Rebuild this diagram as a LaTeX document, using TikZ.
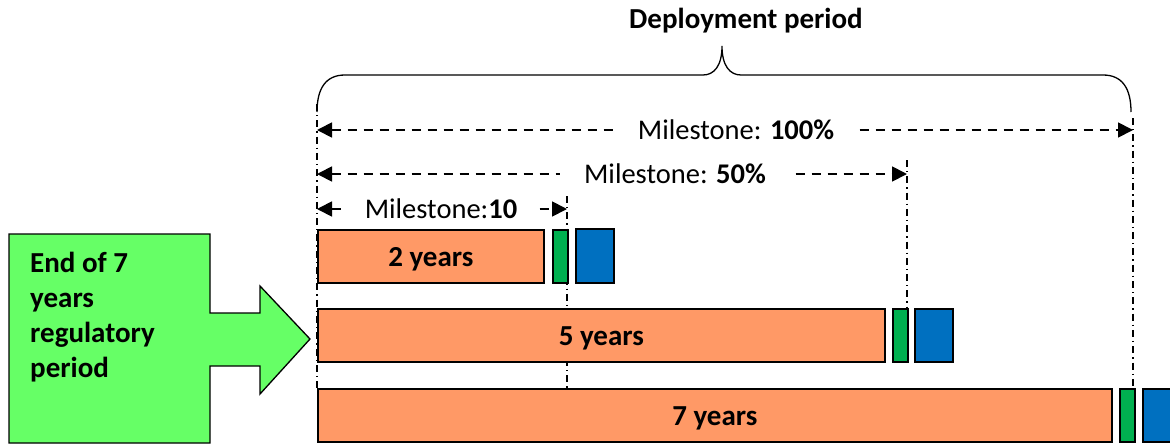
\documentclass[tikz,border=0pt]{standalone}
\usepackage{fontspec}
\setmainfont{Carlito}
\usetikzlibrary{arrows.meta}
\definecolor{barorange}{HTML}{FF9966}
\definecolor{bargreen}{HTML}{00B050}
\definecolor{barblue}{HTML}{0070C0}
\definecolor{callgreen}{HTML}{66FF66}
\newcommand{\barlabel}[1]{\raisebox{-10pt}[0pt][0pt]{#1}}
\begin{document}
\begin{tikzpicture}[x=1pt,y=-1pt,
  bar/.style={draw=black,line width=1.6pt,anchor=north west,inner sep=0pt,font=\fontsize{29}{32}\selectfont\bfseries},
  obar/.style={bar,fill=barorange},
  gbar/.style={bar,fill=bargreen},
  bbar/.style={bar,fill=barblue},
  dimarrow/.style={line width=1.8pt,dash pattern=on 9pt off 7pt,{Triangle[length=15pt,width=15pt]}-{Triangle[length=15pt,width=15pt]}},
  dimlabel/.style={fill=white,inner sep=4pt,font=\fontsize{28.5}{32}\selectfont},
  guide/.style={line width=1.3pt,dash pattern=on 7pt off 4pt on 1.3pt off 4pt}]
\useasboundingbox (0,0) rectangle (1170,445);
% callout
\draw[fill=callgreen,line width=1.3pt] (9,234) -- (210,234) -- (210,313) -- (260,313) -- (260,286) -- (310,339) -- (260,394) -- (260,366) -- (210,366) -- (210,443) -- (9,443) -- cycle;
\node[anchor=north west,align=left,inner sep=0pt,font=\fontsize{29}{35}\selectfont\bfseries] (ctext) at (30,252) {End of 7\\years\\regulatory\\period};
% guide lines (behind bars)
\coordinate (s0) at (317,104);
\coordinate (s0b) at (317,388);
\coordinate (m10) at (567,196);
\coordinate (m10b) at (567,388);
\coordinate (m50) at (907,160);
\coordinate (m50b) at (907,363);
\coordinate (m100) at (1133,118);
\coordinate (m100b) at (1133,388);
\draw[guide] (s0) -- (s0b);
\draw[guide] (m10) -- (m10b);
\draw[guide] (m50) -- (m50b);
\draw[guide] (m100) -- (m100b);
% bars
\node[obar,minimum width=226pt,minimum height=53pt] (o1) at (317,229) {\barlabel{2 years}};
\node[gbar,minimum width=15pt,minimum height=53pt] (g1) at (552,229) {};
\node[bbar,minimum width=38pt,minimum height=54pt] (b1) at (575,228) {};
\node[obar,minimum width=567pt,minimum height=53pt] (o2) at (317,308) {\barlabel{5 years}};
\node[gbar,minimum width=15pt,minimum height=53pt] (g2) at (892,308) {};
\node[bbar,minimum width=38pt,minimum height=53pt] (b2) at (914,308) {};
\node[obar,minimum width=794pt,minimum height=53pt] (o3) at (317,388) {\barlabel{7 years}};
\node[gbar,minimum width=15pt,minimum height=53pt] (g3) at (1119,388) {};
\node[bbar,minimum width=40pt,minimum height=53pt] (b3) at (1142,388) {};
% dimension arrows
\coordinate (a100l) at (317,130); \coordinate (a100r) at (1133,130);
\coordinate (a50l) at (317,174); \coordinate (a50r) at (907,174);
\coordinate (a10l) at (317,209); \coordinate (a10r) at (567,209);
\draw[dimarrow] (a100l) -- (a100r);
\draw[dimarrow] (a50l) -- (a50r);
\draw[dimarrow] (a10l) -- (a10r);
\node[dimlabel,inner xsep=20pt] (l100) at (736,130) {Milestone: \textbf{100\%}};
\node[dimlabel,inner xsep=24pt] (l50) at (675,174) {Milestone: \textbf{50\%}};
\node[dimlabel,inner xsep=18pt] (l10) at (441,209) {Milestone:\textbf{10}};
% brace
\draw[line width=1.3pt] (317,112) .. controls (317,88) and (326,75) .. (345,75) -- (703,75) .. controls (714,75) and (722,66) .. (722,46) .. controls (722,66) and (730,75) .. (741,75) -- (1103,75) .. controls (1122,75) and (1131,88) .. (1131,112);
\node[font=\fontsize{29}{32}\selectfont\bfseries] (title) at (746,21) {Deployment period};
\end{tikzpicture}
\end{document}
